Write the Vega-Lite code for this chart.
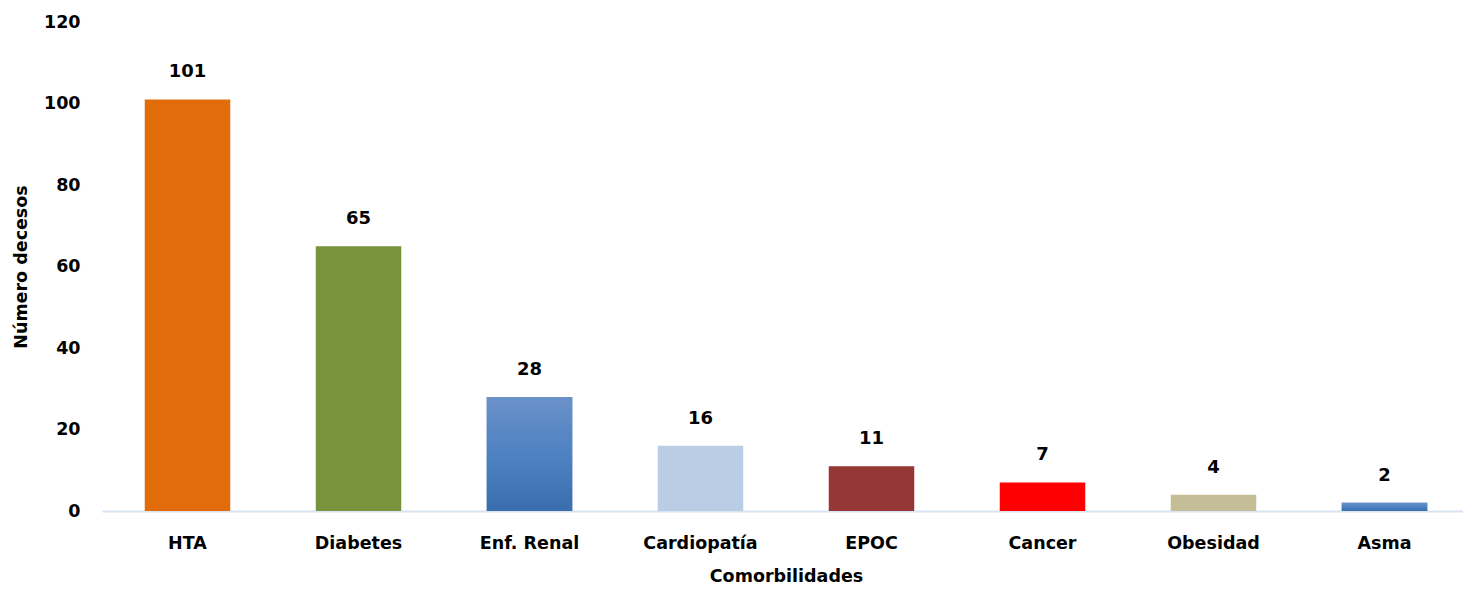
{
  "$schema": "https://vega.github.io/schema/vega-lite/v6.json",
  "autosize": "none",
  "width": 1368,
  "height": 489,
  "padding": {"left": 102, "top": 22, "right": 0, "bottom": 79},
  "background": "white",
  "config": {"view": {"stroke": null}, "font": "DejaVu Sans"},
  "data": {"values": [
    {"cat": "HTA", "n": 101},
    {"cat": "Diabetes", "n": 65},
    {"cat": "Enf. Renal", "n": 28},
    {"cat": "Cardiopatía", "n": 16},
    {"cat": "EPOC", "n": 11},
    {"cat": "Cancer", "n": 7},
    {"cat": "Obesidad", "n": 4},
    {"cat": "Asma", "n": 2}
  ]},
  "encoding": {
    "x": {"field": "cat", "type": "nominal", "sort": null,
      "scale": {"paddingInner": 0.5, "paddingOuter": 0.25},
      "axis": {"title": "Comorbilidades", "labelAngle": 0, "ticks": false,
        "domainColor": "#D9E4F3", "domainWidth": 2,
        "labelFont": "DejaVu Sans", "labelFontWeight": "bold", "labelFontSize": 17.5, "labelColor": "black", "labelPadding": 23,
        "titleFont": "DejaVu Sans", "titleFontWeight": "bold", "titleFontSize": 17.5, "titleColor": "black", "titlePadding": 16}},
    "y": {"field": "n", "type": "quantitative",
      "scale": {"domain": [0, 120]},
      "axis": {"title": "Número decesos", "values": [0, 20, 40, 60, 80, 100, 120], "grid": false, "domain": false, "ticks": false,
        "labelFont": "DejaVu Sans", "labelFontWeight": "bold", "labelFontSize": 17.5, "labelColor": "black", "labelPadding": 22,
        "titleFont": "DejaVu Sans", "titleFontWeight": "bold", "titleFontSize": 17.5, "titleColor": "black", "titlePadding": 13}}
  },
  "layer": [
    {"mark": {"type": "bar"},
      "encoding": {"color": {"field": "cat", "type": "nominal", "legend": null,
        "scale": {"domain": ["HTA", "Diabetes", "Enf. Renal", "Cardiopatía", "EPOC", "Cancer", "Obesidad", "Asma"],
          "range": ["#E36C0A", "#77933C", "#4F81BD", "#B9CDE5", "#953735", "#FF0000", "#C4BD97", "#4F81BD"]}}}},
    {"transform": [{"filter": "datum.cat === 'Enf. Renal' || datum.cat === 'Asma'"}],
      "mark": {"type": "bar", "color": {"gradient": "linear", "x1": 0, "y1": 0, "x2": 0, "y2": 1,
        "stops": [{"offset": 0, "color": "#6B91C9"}, {"offset": 0.5, "color": "#4F82C2"}, {"offset": 1, "color": "#3A6DAE"}]}},
      "encoding": {}},
    {"mark": {"type": "text", "dy": -27, "font": "DejaVu Sans", "fontWeight": "bold", "fontSize": 18, "color": "black", "baseline": "middle"},
      "encoding": {"text": {"field": "n", "type": "quantitative"}}}
  ]
}
